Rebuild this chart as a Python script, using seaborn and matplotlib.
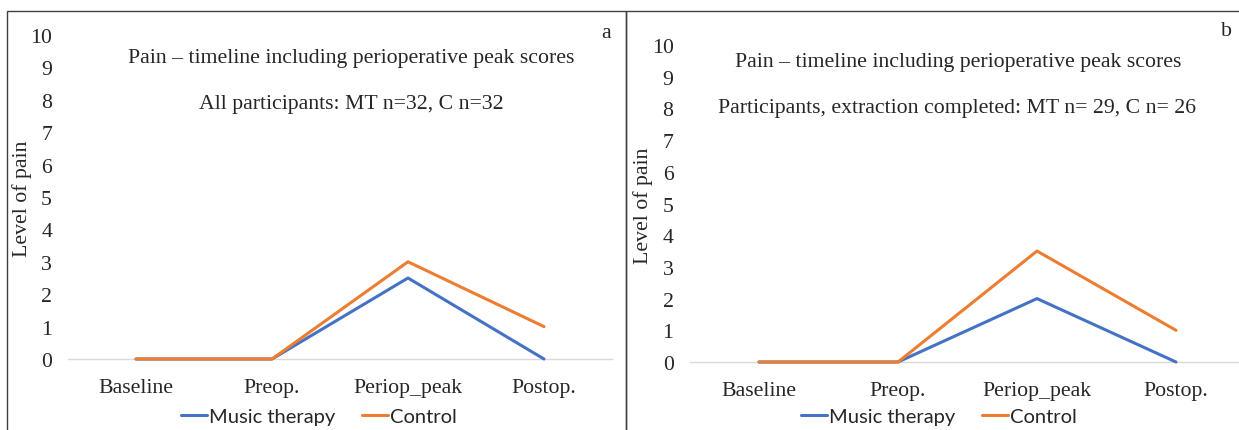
import matplotlib
matplotlib.use("Agg")
import matplotlib.pyplot as plt
from matplotlib.patches import Rectangle
from matplotlib.lines import Line2D
import pandas as pd
import seaborn as sns

# ---- data -------------------------------------------------------------
timepoints = ["Baseline", "Preop.", "Periop_peak", "Postop."]
groups = ["Music therapy", "Control"]

# panel a: all participants
a_music = [0, 0, 2.5, 0]
a_control = [0, 0, 3, 1]
# panel b: participants whose extraction was completed
b_music = [0, 0, 2, 0]
b_control = [0, 0, 3.5, 1]

y_ticks = list(range(0, 11))
title_main = "Pain \u2013 timeline including perioperative peak scores"
subtitle_a = "All participants: MT n=32, C n=32"
subtitle_b = "Participants, extraction completed: MT n= 29, C n= 26"
y_label = "Level of pain"

# ---- style ------------------------------------------------------------
sns.set_theme(style="white")
SERIF = ["Liberation Serif", "DejaVu Serif"]
SANS = ["Lato", "Open Sans", "DejaVu Sans"]
plt.rcParams["font.family"] = SERIF
palette = {"Music therapy": "#4472C4", "Control": "#ED7D31"}
FS = 15.7

W, H = 1239, 431
DPI = 100
fig = plt.figure(figsize=(W / DPI, H / DPI), dpi=DPI)


def px_axes(x0, x1, ytop, ybot):
    """Axes placed in pixel coordinates (origin top-left)."""
    return fig.add_axes([x0 / W, (H - ybot) / H, (x1 - x0) / W, (ybot - ytop) / H])


def to_long(music, control):
    return pd.DataFrame({
        "time": timepoints * 2,
        "pain": music + control,
        "group": [groups[0]] * len(timepoints) + [groups[1]] * len(timepoints),
    })


def panel(ax, music, control, xmax):
    df = to_long(music, control)
    sns.lineplot(data=df, x="time", y="pain", hue="group", hue_order=groups,
                 palette=palette, sort=False, linewidth=2.2, legend=False,
                 ax=ax, solid_capstyle="round", clip_on=False, zorder=3)
    ax.set_xlim(-0.5, xmax)
    ax.set_ylim(0, 10)
    ax.set_yticks(y_ticks)
    ax.set_xticks(range(len(timepoints)))
    ax.set_xticklabels(timepoints)
    for s in ("top", "right", "left"):
        ax.spines[s].set_visible(False)
    ax.spines["bottom"].set_color("#D9D9D9")
    ax.spines["bottom"].set_linewidth(1.0)
    ax.spines["bottom"].set_zorder(1)
    ax.tick_params(axis="y", length=0, pad=11.5, labelsize=FS)
    ax.tick_params(axis="x", length=0, pad=13.5, labelsize=FS)
    ax.set_xlabel("")
    ax.set_ylabel("")
    ax.set_facecolor("none")


# panel frames
fig.patches.append(Rectangle((7 / W, -0.1), (626 - 7) / W, (H - 12) / H + 0.1,
                             transform=fig.transFigure, fill=False,
                             edgecolor="#404040", linewidth=1.0, zorder=0))
fig.patches.append(Rectangle((626 / W, -0.1), 1.0, (H - 12) / H + 0.1,
                             transform=fig.transFigure, fill=False,
                             edgecolor="#404040", linewidth=1.0, zorder=0))

ax_a = px_axes(68, 612, 36, 360)
panel(ax_a, a_music, a_control, 3.5)
ax_b = px_axes(689.5, 1239, 46, 363)
panel(ax_b, b_music, b_control, (1239 - 689.5) / 139 - 0.5)


def ftext(x, y, s, **kw):
    fig.text(x / W, 1 - y / H, s, **kw)


# titles, panel letters, y labels
ftext(351, 58, title_main, ha="center", va="center", fontsize=FS)
ftext(351, 105, subtitle_a, ha="center", va="center", fontsize=FS)
ftext(958, 62, title_main, ha="center", va="center", fontsize=FS)
ftext(957, 109, subtitle_b, ha="center", va="center", fontsize=FS)
ftext(606, 33, "a", ha="center", va="center", fontsize=FS)
ftext(1226, 32, "b", ha="center", va="center", fontsize=FS)
ftext(22, 199, y_label, ha="center", va="center", rotation=90, fontsize=FS)
ftext(643, 206, y_label, ha="center", va="center", rotation=90, fontsize=FS)

# legends below each panel
handles = [Line2D([], [], color=palette[g], linewidth=2.2) for g in groups]
for cx in (319, 939):
    fig.legend(handles, groups, loc="center", bbox_to_anchor=(cx / W, 1 - 417 / H),
               ncol=2, frameon=False, handlelength=1.3, handletextpad=0.1,
               columnspacing=1.3, prop={"family": SANS, "size": 14.5})

fig.savefig("out.png", dpi=DPI)
